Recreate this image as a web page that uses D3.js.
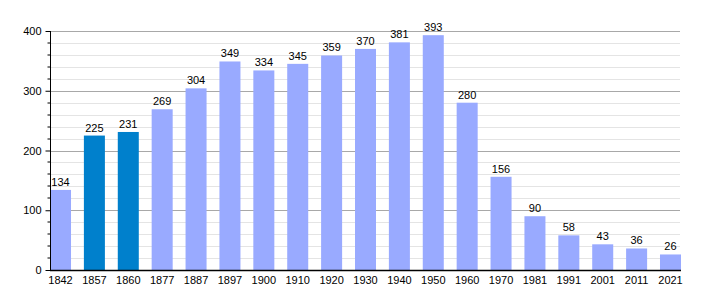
<!DOCTYPE html>
<html>
<head>
<meta charset="utf-8">
<style>
  body { margin: 0; background: #fff; }
  text { font-family: "Liberation Sans", Arial, sans-serif; font-size: 11px; fill: #000; }
</style>
</head>
<body>
<div class="chart"></div>
<script src="https://cdn.jsdelivr.net/npm/d3@7"></script>
<script>
// data
let years = ["1842", "1857", "1860", "1877", "1887", "1897", "1900", "1910", "1920", "1930",
             "1940", "1950", "1960", "1970", "1981", "1991", "2001", "2011", "2021"];
let population = [134, 225, 231, 269, 304, 349, 334, 345, 359, 370,
                  381, 393, 280, 156, 90, 58, 43, 36, 26];
let highlighted = ["1857", "1860"];
let majorTicks = [0, 100, 200, 300, 400];
let minorTicks = [20, 40, 60, 80, 120, 140, 160, 180, 220, 240, 260, 280, 320, 340, 360, 380];

window.onload = function(){
  showBars();
};

function showBars(){
  let width = 710, height = 300;
  let left = 50, right = 681, top = 31, bottom = 270;

  let svg = d3.select(".chart").append("svg")
    .attr("width", width)
    .attr("height", height);

  let scaleX = d3.scaleBand()
    .domain(years)
    .range([left, right])
    .paddingInner(0.38)
    .paddingOuter(0);

  let scaleY = d3.scaleLinear()
    .domain([0, 400])
    .range([bottom, top]);

  // grid
  svg.append("g").selectAll("line")
    .data(minorTicks).enter().append("line")
    .attr("x1", left).attr("x2", 680)
    .attr("y1", d => Math.round(scaleY(d)) + 0.5)
    .attr("y2", d => Math.round(scaleY(d)) + 0.5)
    .attr("stroke", "#e4e4e4");
  svg.append("g").selectAll("line")
    .data(majorTicks.slice(1)).enter().append("line")
    .attr("x1", left).attr("x2", 680)
    .attr("y1", d => Math.round(scaleY(d)) + 0.5)
    .attr("y2", d => Math.round(scaleY(d)) + 0.5)
    .attr("stroke", "#a8a8a8");

  // bars
  svg.append("g").selectAll("rect")
    .data(years).enter().append("rect")
    .attr("x", d => scaleX(d))
    .attr("width", scaleX.bandwidth())
    .attr("y", (d, i) => scaleY(population[i]))
    .attr("height", (d, i) => bottom - scaleY(population[i]))
    .attr("fill", d => highlighted.includes(d) ? "#0080cc" : "#99aaff");

  // value labels
  svg.append("g").selectAll("text")
    .data(years).enter().append("text")
    .attr("x", d => scaleX(d) + scaleX.bandwidth() / 2)
    .attr("y", (d, i) => scaleY(population[i]) - 4)
    .attr("text-anchor", "middle")
    .text((d, i) => population[i]);

  // y axis
  let axisY = d3.axisLeft(scaleY).tickValues(majorTicks).tickSize(5).tickPadding(4);
  let gy = svg.append("g")
    .attr("transform", "translate(" + (left + 0.5) + ",0)")
    .call(axisY);
  gy.selectAll("text").style("font-size", "11px").style("font-family", "Liberation Sans, Arial, sans-serif");
  gy.select(".domain").attr("d", "M0," + top + "V" + bottom);
  gy.selectAll(".tick line").attr("stroke", "#000");
  gy.append("g").selectAll("line")
    .data(minorTicks).enter().append("line")
    .attr("x1", -3).attr("x2", 0)
    .attr("y1", d => Math.round(scaleY(d)) + 0.5 - 0.5)
    .attr("y2", d => Math.round(scaleY(d)) + 0.5 - 0.5)
    .attr("stroke", "#000");

  // x axis
  let axisX = d3.axisBottom(scaleX).tickSize(0).tickPadding(6);
  let gx = svg.append("g")
    .attr("transform", "translate(0," + (bottom + 0.5) + ")")
    .call(axisX);
  gx.selectAll("text").style("font-size", "11px").style("font-family", "Liberation Sans, Arial, sans-serif");
  gx.select(".domain").attr("d", "M" + left + ",0H" + right).attr("stroke-width", 1.5);
}
</script>
</body>
</html>
